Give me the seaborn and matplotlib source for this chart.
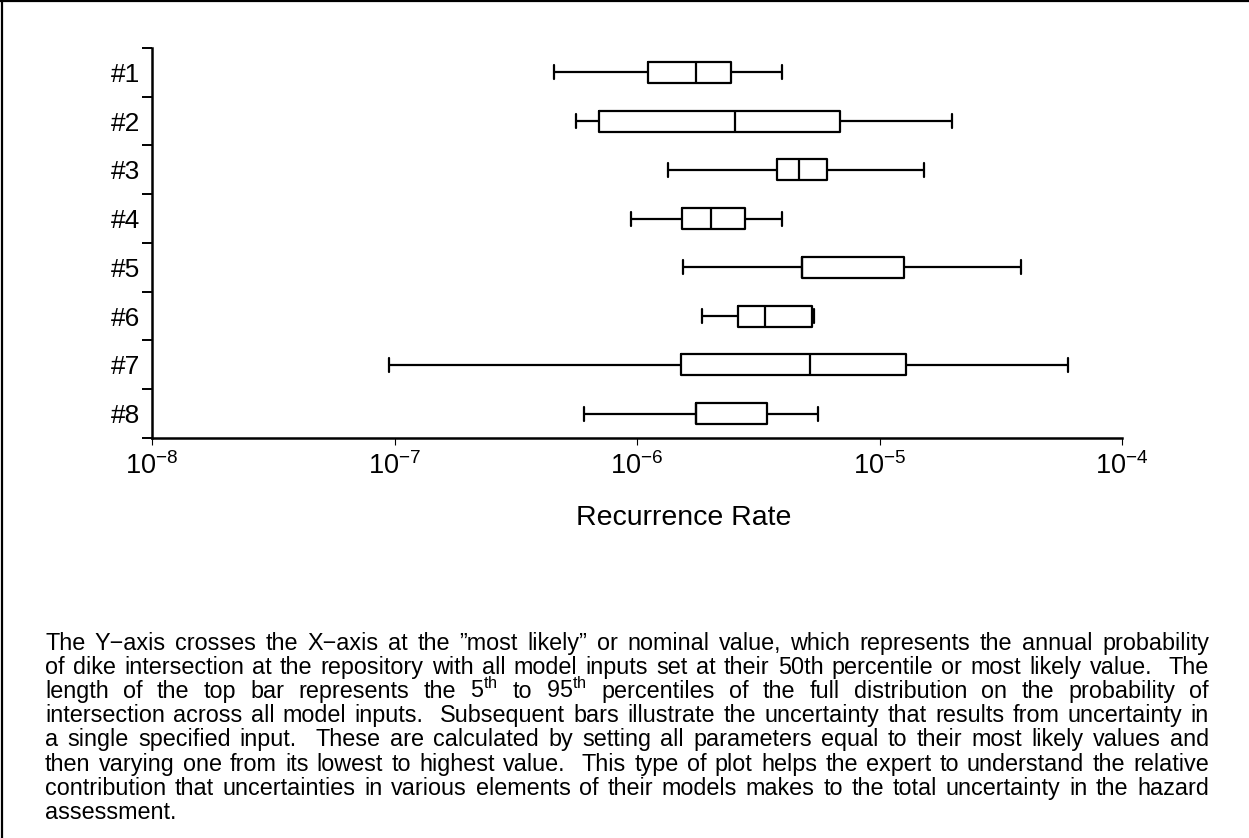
import re
import numpy as np
import pandas as pd
import matplotlib
matplotlib.use("Agg")
import matplotlib.pyplot as plt
from matplotlib.lines import Line2D
from matplotlib.ticker import LogFormatterSciNotation, NullLocator
import seaborn as sns

# Sensitivity of the recurrence rate to each model input
cases = ["#1", "#2", "#3", "#4", "#5", "#6", "#7", "#8"]
lower_whisker = [4.53e-7, 5.58e-7, 1.336e-6, 9.49e-7, 1.55e-6, 1.85e-6, 9.5e-8, 6.06e-7]
first_quartile = [1.115e-6, 6.96e-7, 3.78e-6, 1.54e-6, 4.81e-6, 2.60e-6, 1.52e-6, 1.75e-6]
median_value = [1.75e-6, 2.53e-6, 4.65e-6, 2.01e-6, 4.81e-6, 3.36e-6, 5.17e-6, 1.75e-6]
third_quartile = [2.43e-6, 6.87e-6, 6.09e-6, 2.80e-6, 1.259e-5, 5.27e-6, 1.29e-5, 3.44e-6]
upper_whisker = [3.96e-6, 2.00e-5, 1.52e-5, 3.95e-6, 3.85e-5, 5.35e-6, 5.97e-5, 5.59e-6]
decade_ticks = [1e-8, 1e-7, 1e-6, 1e-5, 1e-4]

caption_lines = [
    "The Y\u2212axis crosses the X\u2212axis at the \u201dmost likely\u201d or nominal value, which represents the annual probability",
    "of dike intersection at the repository with all model inputs set at their 50th percentile or most likely value.  The",
    "length of the top bar represents the 5$^{th}$ to 95$^{th}$ percentiles of the full distribution on the probability of",
    "intersection across all model inputs.  Subsequent bars illustrate the uncertainty that results from uncertainty in",
    "a single specified input.  These are calculated by setting all parameters equal to their most likely values and",
    "then varying one from its lowest to highest value.  This type of plot helps the expert to understand the relative",
    "contribution that uncertainties in various elements of their models makes to the total uncertainty in the hazard",
    "assessment.",
]

sns.set_theme(style="ticks", rc={
    "axes.edgecolor": "black", "text.color": "black", "axes.labelcolor": "black",
    "xtick.color": "black", "ytick.color": "black",
})
plt.rcParams["font.family"] = ["Liberation Sans", "DejaVu Sans"]
plt.rcParams["mathtext.fontset"] = "custom"
plt.rcParams["mathtext.rm"] = "Liberation Sans"
plt.rcParams["mathtext.it"] = "Liberation Sans:italic"
plt.rcParams["mathtext.bf"] = "Liberation Sans:bold"
plt.rcParams["mathtext.default"] = "regular"

W, H = 1249, 838
fig = plt.figure(figsize=(W / 100, H / 100), dpi=100)
fig.patch.set_facecolor("white")
ax = fig.add_axes([152 / W, 1 - 438 / H, 970 / W, 390 / H])

# Five summary values per case; with whiskers at the full range they
# reproduce exactly the drawn box statistics.
records = []
for name, lo, q1, md, q3, hi in zip(cases, lower_whisker, first_quartile,
                                    median_value, third_quartile, upper_whisker):
    for v in (lo, q1, md, q3, hi):
        records.append({"case": name, "rate": v})
df = pd.DataFrame(records)

sns.boxplot(data=df, x="rate", y="case", order=cases, orient="h",
            whis=(0, 100), log_scale=True, fill=False, color="black",
            linecolor="black", width=0.43, linewidth=1.6, capwidths=0.29,
            legend=False, ax=ax)

ax.set_xlim(decade_ticks[0], decade_ticks[-1])
ax.set_ylim(7.5, -0.5)
ax.set_xticks(decade_ticks)
ax.xaxis.set_minor_locator(NullLocator())
ax.xaxis.set_major_formatter(LogFormatterSciNotation())

ax.set_yticks(np.arange(-0.5, 8.0, 1.0))
ax.set_yticklabels([])
ax.set_yticks(np.arange(len(cases)), labels=cases, minor=True)
ax.tick_params(axis="y", which="major", direction="out", length=7.2, width=1.4, left=True)
ax.tick_params(axis="y", which="minor", length=0, pad=8.6, labelsize=19)
ax.tick_params(axis="x", which="major", direction="out", length=5, width=0.8,
               pad=5, labelsize=19.5, bottom=True)

for side in ("top", "right"):
    ax.spines[side].set_visible(False)
for side in ("left", "bottom"):
    ax.spines[side].set_linewidth(1.8)
    ax.spines[side].set_color("black")
ax.grid(False)

ax.set_ylabel("")
ax.set_xlabel("Recurrence Rate", fontsize=20.5)
ax.xaxis.set_label_coords((684 - 152) / 970, (438 - 505) / 390)

# Page frame along the top and left edges
fig.add_artist(Line2D([0, 1], [1 - 1.2 / H] * 2, transform=fig.transFigure,
                      color="black", lw=1.6))
fig.add_artist(Line2D([1.5 / W] * 2, [0, 1], transform=fig.transFigure,
                      color="black", lw=1.6))

# Justified explanatory paragraph
caption_size = 16.8
left_px, right_px = 45, 1209
first_baseline_px, line_step_px = 650, 24.1
renderer = fig.canvas.get_renderer()
for i, line in enumerate(caption_lines):
    yb = 1 - (first_baseline_px + i * line_step_px) / H
    parts = re.split(r"( +)", line)
    words = parts[0::2]
    gaps = [len(g) for g in parts[1::2]]
    texts = [fig.text(0, yb, w, fontsize=caption_size, va="baseline", ha="left")
             for w in words]
    widths = [t.get_window_extent(renderer).width for t in texts]
    if i < len(caption_lines) - 1 and gaps:
        unit = (right_px - left_px - sum(widths)) / sum(gaps)
    else:
        unit = 0.278 * caption_size * 100 / 72
    x = left_px
    for t, w, g in zip(texts, widths, gaps + [0]):
        t.set_x(x / W)
        x += w + g * unit

fig.savefig("out.png", dpi=100, facecolor="white")
